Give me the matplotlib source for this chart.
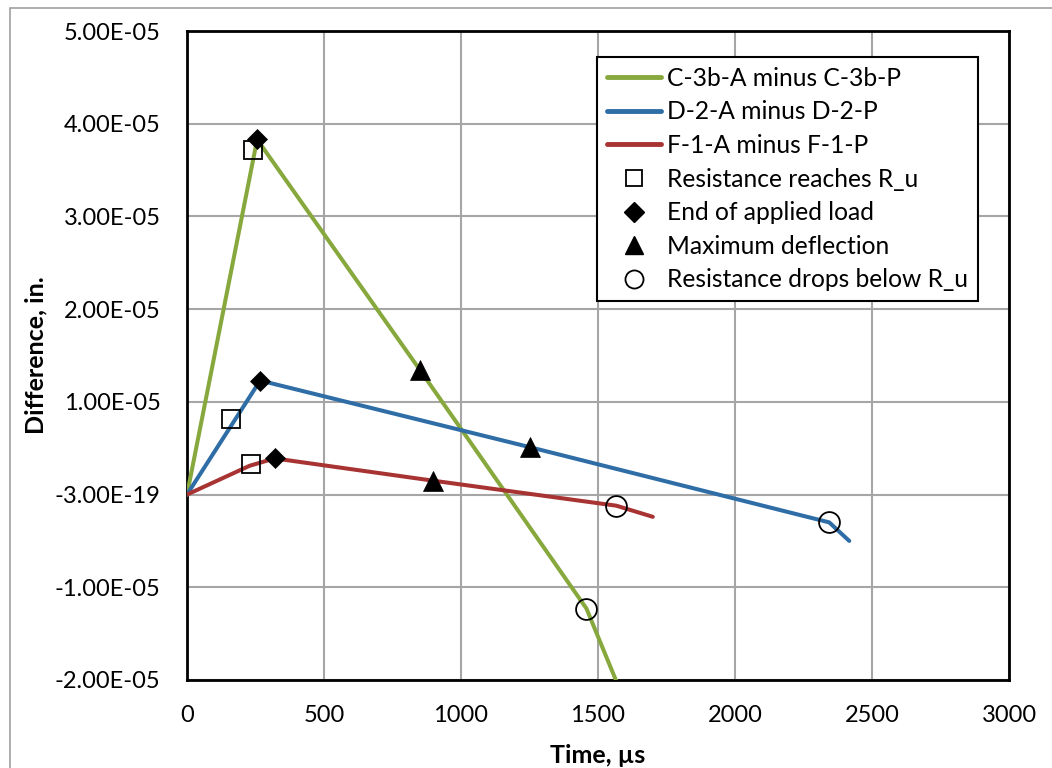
import matplotlib
matplotlib.use("Agg")
import matplotlib.pyplot as plt
from matplotlib.lines import Line2D
from matplotlib.patches import Rectangle

plt.rcParams['font.family'] = ['Lato', 'DejaVu Sans']

# ---- data (time in microseconds, difference in inches) ----
green_t = [0, 256, 851, 1458, 1572]
green_y = [0.0, 3.83e-5, 1.34e-5, -1.23e-5, -2.05e-5]
blue_t = [0, 267, 1253, 2344, 2417]
blue_y = [0.0, 1.23e-5, 0.51e-5, -0.30e-5, -0.50e-5]
red_t = [0, 228, 320, 898, 1567, 1700]
red_y = [0.0, 0.31e-5, 0.39e-5, 0.15e-5, -0.12e-5, -0.24e-5]

square_t = [241, 160, 234]
square_y = [3.72e-5, 0.82e-5, 0.33e-5]
diamond_t = [256, 267, 320]
diamond_y = [3.83e-5, 1.23e-5, 0.39e-5]
triangle_t = [851, 1253, 898]
triangle_y = [1.34e-5, 0.51e-5, 0.15e-5]
circle_t = [1458, 2344, 1567]
circle_y = [-1.23e-5, -0.30e-5, -0.12e-5]

series_names = ["C-3b-A minus C-3b-P", "D-2-A minus D-2-P", "F-1-A minus F-1-P"]
marker_names = ["Resistance reaches R_u", "End of applied load",
                "Maximum deflection", "Resistance drops below R_u"]

x_ticks = [0, 500, 1000, 1500, 2000, 2500, 3000]
y_ticks = [-2e-5, -1e-5, 0.0, 1e-5, 2e-5, 3e-5, 4e-5, 5e-5]
y_tick_labels = ["-2.00E-05", "-1.00E-05", "-3.00E-19", "1.00E-05",
                 "2.00E-05", "3.00E-05", "4.00E-05", "5.00E-05"]

c_green = "#87A83D"
c_blue = "#2E6DA6"
c_red = "#A83333"

fig = plt.figure(figsize=(10.52, 7.68), dpi=100)
fig.patches.append(Rectangle((10 / 1052, -0.1), 1.2, 1.1 - 8 / 768,
                             transform=fig.transFigure, fill=False,
                             edgecolor="#A0A0A0", linewidth=1.2, zorder=0))
ax = fig.add_axes([187 / 1052, 1 - 680 / 768, (1009 - 187) / 1052, (680 - 31) / 768])

lw = 2.9
ax.plot(green_t, green_y, color=c_green, lw=lw, solid_capstyle='round', zorder=3)
ax.plot(blue_t, blue_y, color=c_blue, lw=lw, solid_capstyle='round', zorder=3)
ax.plot(red_t, red_y, color=c_red, lw=lw, solid_capstyle='round', zorder=3)

ax.plot(square_t, square_y, ls='none', marker='s', ms=12.5, mfc='none', mec='black', mew=1.3, zorder=4)
ax.plot(diamond_t, diamond_y, ls='none', marker='D', ms=10.5, mfc='black', mec='black', mew=0.5, zorder=5)
ax.plot(triangle_t, triangle_y, ls='none', marker='^', ms=14, mfc='black', mec='black', mew=0.5, zorder=5)
ax.plot(circle_t, circle_y, ls='none', marker='o', ms=15, mfc='none', mec='black', mew=1.3, zorder=5)

ax.set_xlim(0, 3000)
ax.set_ylim(-2e-5, 5e-5)
ax.set_xticks(x_ticks)
ax.set_xticklabels([str(v) for v in x_ticks])
ax.set_yticks(y_ticks)
ax.set_yticklabels(y_tick_labels)
ax.tick_params(length=0, labelsize=17, colors='black')
ax.tick_params(axis='y', pad=19)
ax.tick_params(axis='x', pad=18)
ax.grid(True, color="#A6A6A6", lw=1.5, zorder=1)
ax.set_axisbelow(True)
for s in ax.spines.values():
    s.set_linewidth(2)
    s.set_color('black')

ax.set_xlabel("Time, µs", fontsize=18, fontweight='bold')
ax.set_ylabel("Difference, in.", fontsize=18, fontweight='bold')
ax.xaxis.set_label_coords(0.5, (680 - 744) / 649)
ax.yaxis.set_label_coords((47 - 187) / 822, 0.5)

handles = [
    Line2D([], [], color=c_green, lw=3.5, solid_capstyle='round'),
    Line2D([], [], color=c_blue, lw=3.5, solid_capstyle='round'),
    Line2D([], [], color=c_red, lw=3.5, solid_capstyle='round'),
    Line2D([], [], ls='none', marker='s', ms=12, mfc='none', mec='black', mew=1.3),
    Line2D([], [], ls='none', marker='D', ms=10, mfc='black', mec='black'),
    Line2D([], [], ls='none', marker='^', ms=13, mfc='black', mec='black'),
    Line2D([], [], ls='none', marker='o', ms=13, mfc='none', mec='black', mew=1.3),
]
leg = ax.legend(handles, series_names + marker_names,
                loc='upper left', bbox_to_anchor=((597 - 187) / 822, 1 - (57 - 31) / 649),
                fontsize=17.7, frameon=True, fancybox=False, framealpha=1,
                edgecolor='black', handlelength=2.2, handletextpad=0.25,
                labelspacing=0.43, borderpad=0.4, borderaxespad=0)
leg.get_frame().set_linewidth(1.5)

fig.savefig("out.png", dpi=100)
